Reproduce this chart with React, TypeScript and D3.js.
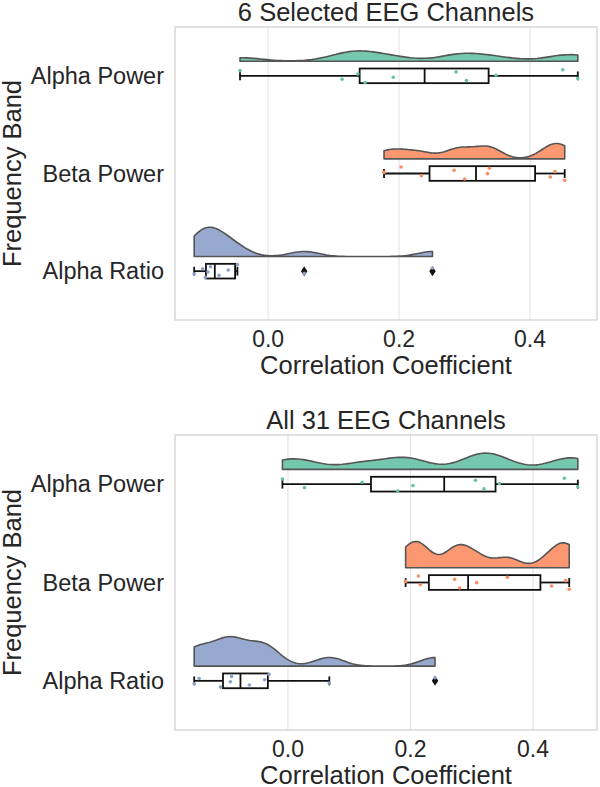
import React from 'react';
import * as d3 from 'd3';

// frequency bands, top to bottom
const bands = ['Alpha Power', 'Beta Power', 'Alpha Ratio'];
const bandColors = ['#66c2a5', '#fc8d62', '#8da0cb'];

// correlation coefficients per subject, 6 selected channels
const sel6AlphaPower = [-0.043, 0.113, 0.137, 0.148, 0.191, 0.287, 0.303, 0.348, 0.45, 0.473];
const sel6BetaPower = [0.177, 0.203, 0.234, 0.284, 0.3, 0.335, 0.338, 0.431, 0.438, 0.453];
const sel6AlphaRatio = [-0.113, -0.1, -0.096, -0.092, -0.088, -0.075, -0.061, -0.047, 0.055, 0.251];

// all 31 channels
const all31AlphaPower = [-0.009, 0.027, 0.121, 0.179, 0.204, 0.306, 0.32, 0.345, 0.451, 0.473];
const all31BetaPower = [0.192, 0.213, 0.216, 0.272, 0.28, 0.308, 0.358, 0.43, 0.453, 0.459];
const all31AlphaRatio = [-0.153, -0.145, -0.11, -0.094, -0.092, -0.063, -0.038, -0.031, 0.0675, 0.24];

const xTicks = [0.0, 0.2, 0.4];
const titles = ['6 Selected EEG Channels', 'All 31 EEG Channels'];
const xLabel = 'Correlation Coefficient';
const yLabel = 'Frequency Band';

const FONT = '"Liberation Sans", Arial, sans-serif';
const TEXT = '#262626';

// gaussian kde like scipy with bw factor 0.2, cut = 0
function kde(values: number[], n = 100): [number, number][] {
  const bw = 0.2 * (d3.deviation(values) as number);
  const [lo, hi] = d3.extent(values) as [number, number];
  const k = 1 / (values.length * bw * Math.sqrt(2 * Math.PI));
  return d3.range(n).map(i => {
    const x = lo + ((hi - lo) * i) / (n - 1);
    return [x, k * d3.sum(values, v => Math.exp(-0.5 * ((x - v) / bw) ** 2))] as [number, number];
  });
}

function boxStats(values: number[]) {
  const s = [...values].sort(d3.ascending);
  const q1 = d3.quantileSorted(s, 0.25) as number;
  const med = d3.quantileSorted(s, 0.5) as number;
  const q3 = d3.quantileSorted(s, 0.75) as number;
  const iqr = q3 - q1;
  const inside = s.filter(v => v >= q1 - 1.5 * iqr && v <= q3 + 1.5 * iqr);
  return {
    q1, med, q3,
    lo: inside[0],
    hi: inside[inside.length - 1],
    out: s.filter(v => v < q1 - 1.5 * iqr || v > q3 + 1.5 * iqr),
  };
}

// fixed, non-random jitter for the rain points
const jitter = (i: number, g: number) => (((i * 0.6180339887 + g * 0.29 + 0.13) % 1) * 2 - 1);

interface PanelProps {
  title: string;
  groups: number[][];
  top: number;
  bottom: number;
}

const LEFT = 175;
const RIGHT = 597;

function Panel({ title, groups, top, bottom }: PanelProps) {
  const all = groups.flat();
  const [mn, mx] = d3.extent(all) as [number, number];
  const pad = (mx - mn) * 0.05;
  const x = d3.scaleLinear().domain([mn - pad, mx + pad]).range([LEFT, RIGHT]);
  const y = d3.scaleBand().domain(bands).range([top, bottom]);
  const bw = y.bandwidth();

  const dens = groups.map(g => kde(g));
  const maxD = d3.max(dens.flat(), d => d[1]) as number;
  const h = d3.scaleLinear().domain([0, maxD]).range([0, 0.3 * bw]);

  const boxH = 0.15 * bw;
  const cap = boxH * 0.3;

  return (
    <g>
      {xTicks.map(t => (
        <line key={'g' + t} x1={x(t)} x2={x(t)} y1={top} y2={bottom} stroke="#e2e2e2" strokeWidth={1} />
      ))}
      <rect x={LEFT} y={top} width={RIGHT - LEFT} height={bottom - top} fill="none" stroke="#d2d2d2" strokeWidth={1.3} />

      {groups.map((g, gi) => {
        const c = (y(bands[gi]) as number) + bw / 2;
        const base = c - 0.15 * bw;
        const area = d3.area<[number, number]>()
          .x(d => x(d[0]))
          .y0(base)
          .y1(d => base - h(d[1]));
        const st = boxStats(g);
        return (
          <g key={bands[gi]}>
            <path d={area(dens[gi]) as string} fill={bandColors[gi]} fillOpacity={0.9} stroke="#555555" strokeWidth={1.6} strokeLinejoin="round" />
            <g stroke="#111111" strokeWidth={1.8} fill="none">
              <line x1={x(st.lo)} x2={x(st.q1)} y1={c} y2={c} />
              <line x1={x(st.q3)} x2={x(st.hi)} y1={c} y2={c} />
              <line x1={x(st.lo)} x2={x(st.lo)} y1={c - cap} y2={c + cap} />
              <line x1={x(st.hi)} x2={x(st.hi)} y1={c - cap} y2={c + cap} />
              <rect x={x(st.q1)} y={c - boxH / 2} width={x(st.q3) - x(st.q1)} height={boxH} />
              <line x1={x(st.med)} x2={x(st.med)} y1={c - boxH / 2} y2={c + boxH / 2} />
            </g>
            {st.out.map(v => (
              <path key={'o' + v} transform={`translate(${x(v)},${c})`} d="M0,-5L3.2,0L0,5L-3.2,0Z" fill="#111111" />
            ))}
            {g.map((v, i) => (
              <circle key={'p' + i} cx={x(v)} cy={c + jitter(i, gi) * 7} r={1.8} fill={bandColors[gi]} />
            ))}
          </g>
        );
      })}

      {bands.map(b => (
        <text key={b} x={164} y={(y(b) as number) + bw / 2 + 8} textAnchor="end" fontSize={23.5} fill={TEXT} fontFamily={FONT}>{b}</text>
      ))}
      {xTicks.map(t => (
        <text key={'t' + t} x={x(t)} y={bottom + 27} textAnchor="middle" fontSize={23} fill={TEXT} fontFamily={FONT}>{d3.format('.1f')(t)}</text>
      ))}
      <text x={(LEFT + RIGHT) / 2} y={top - 6} textAnchor="middle" fontSize={25.5} fill={TEXT} fontFamily={FONT}>{title}</text>
      <text x={(LEFT + RIGHT) / 2} y={bottom + 54} textAnchor="middle" fontSize={25.5} fill={TEXT} fontFamily={FONT}>{xLabel}</text>
      <text transform={`translate(21,${(top + bottom) / 2}) rotate(-90)`} textAnchor="middle" fontSize={25.5} fill={TEXT} fontFamily={FONT}>{yLabel}</text>
    </g>
  );
}

export default function App() {
  return (
    <svg width={600} height={787} style={{ position: 'absolute', left: 0, top: 0, background: '#fff' }}>
      <Panel title={titles[0]} groups={[sel6AlphaPower, sel6BetaPower, sel6AlphaRatio]} top={27} bottom={320} />
      <Panel title={titles[1]} groups={[all31AlphaPower, all31BetaPower, all31AlphaRatio]} top={435} bottom={730} />
    </svg>
  );
}
